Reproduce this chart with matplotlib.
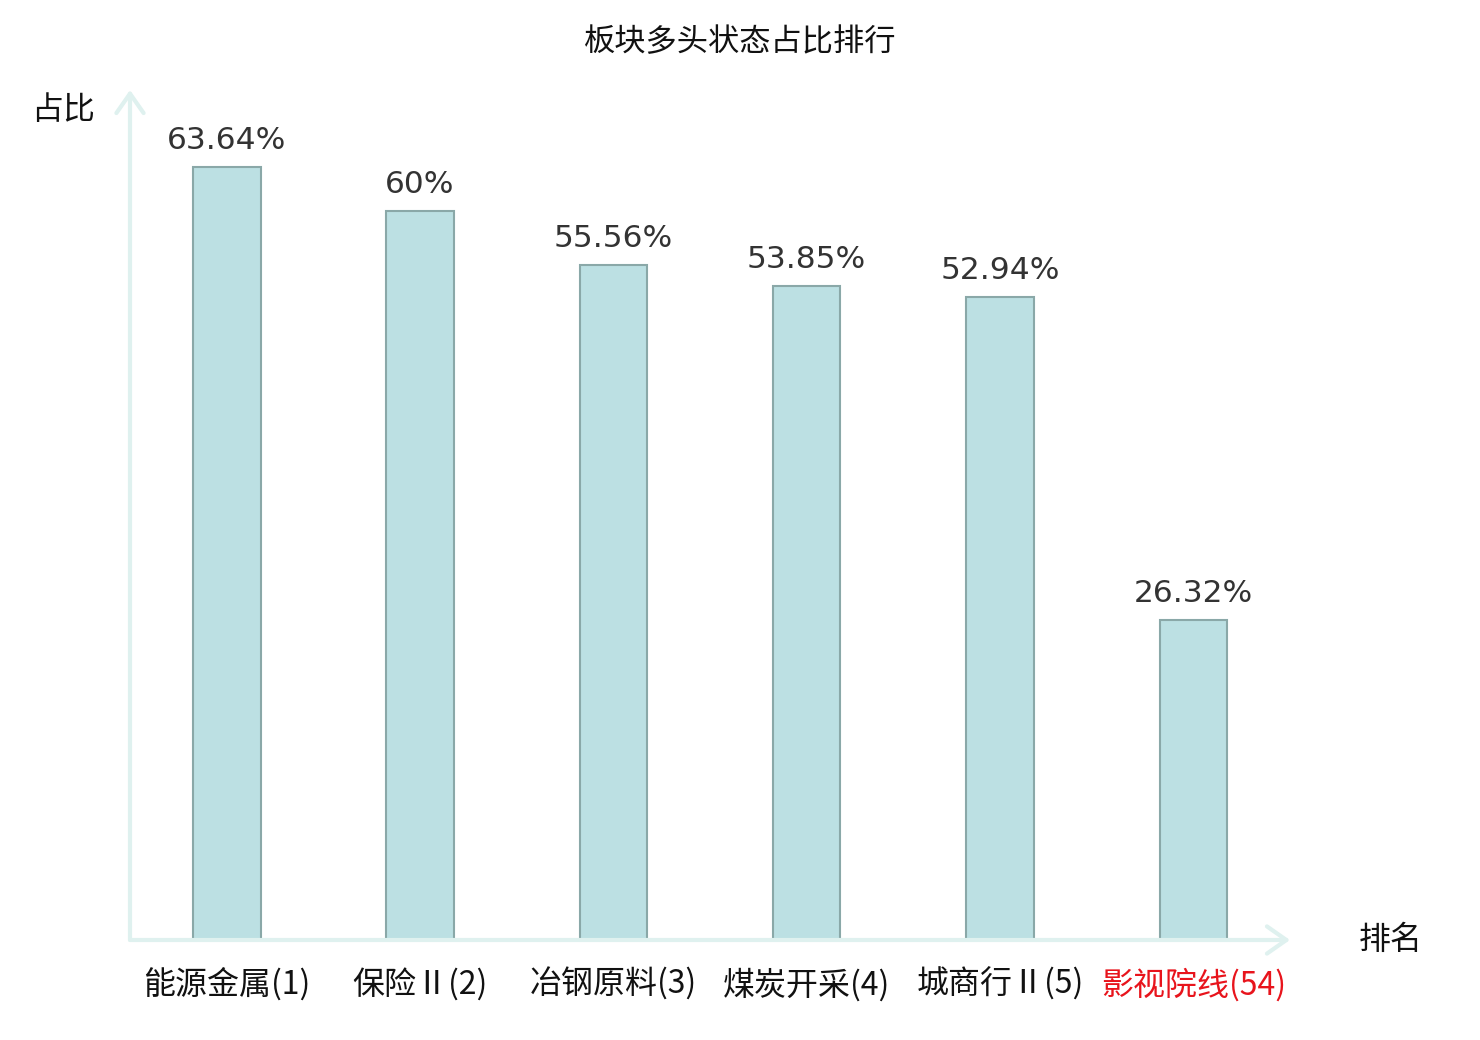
import matplotlib
matplotlib.use('Agg')
import matplotlib.pyplot as plt
import numpy as np

categories = ['能源金属(1)', '保险Ⅱ(2)', '冶钢原料(3)', '煤炭开采(4)', '城商行Ⅱ(5)', '影视院线(54)']
values = [63.64, 60, 55.56, 53.85, 52.94, 26.32]
value_labels = ['63.64%', '60%', '55.56%', '53.85%', '52.94%', '26.32%']
label_colors = ['#111111', '#111111', '#111111', '#111111', '#111111', '#e8141c']

cjk = ['Noto Sans CJK SC', 'DejaVu Sans']
plt.rcParams['font.family'] = cjk

fig = plt.figure(figsize=(14.8, 10.4), dpi=100)
ax = fig.add_axes([130 / 1480, 1 - 940 / 1040, 1160 / 1480, 850 / 1040])

x = np.arange(len(categories))
ax.bar(x, values, width=0.35, color='#bce0e3', edgecolor='#8aa8a8', linewidth=1.5)

for xi, v, lab in zip(x, values, value_labels):
    ax.text(xi, v + 1.0, lab, ha='center', va='bottom', fontsize=22.5,
            color='#333333', family='DejaVu Sans')

ax.set_xlim(-0.5, 5.5)
ax.set_ylim(0, 70)
for s in ax.spines.values():
    s.set_visible(False)
ax.set_yticks([])
ax.set_xticks(x)
ax.set_xticklabels(categories, fontsize=23)
ax.tick_params(axis='x', length=0, pad=20)
for t, c in zip(ax.get_xticklabels(), label_colors):
    t.set_color(c)

# axes drawn as arrows
axis_color = '#dff1ef'
arrow = dict(arrowstyle='->,head_length=0.5,head_width=0.35', mutation_scale=28,
             color=axis_color, lw=3, shrinkA=0, shrinkB=0)
ax.annotate('', xy=(0, 1.0), xytext=(0, 0), xycoords='axes fraction',
            arrowprops=arrow, annotation_clip=False)
ax.annotate('', xy=(1.0, 0), xytext=(0, 0), xycoords='axes fraction',
            arrowprops=arrow, annotation_clip=False)

fig.text(63 / 1480, 1 - 110 / 1040, '占比', ha='center', va='center', fontsize=23, color='#111111')
fig.text(1391 / 1480, 1 - 940 / 1040, '排名', ha='center', va='center', fontsize=23, color='#111111')
fig.text(740 / 1480, 1 - 42 / 1040, '板块多头状态占比排行', ha='center', va='center',
         fontsize=22.5, color='#111111')

fig.savefig('out.png', dpi=100, facecolor='white')
